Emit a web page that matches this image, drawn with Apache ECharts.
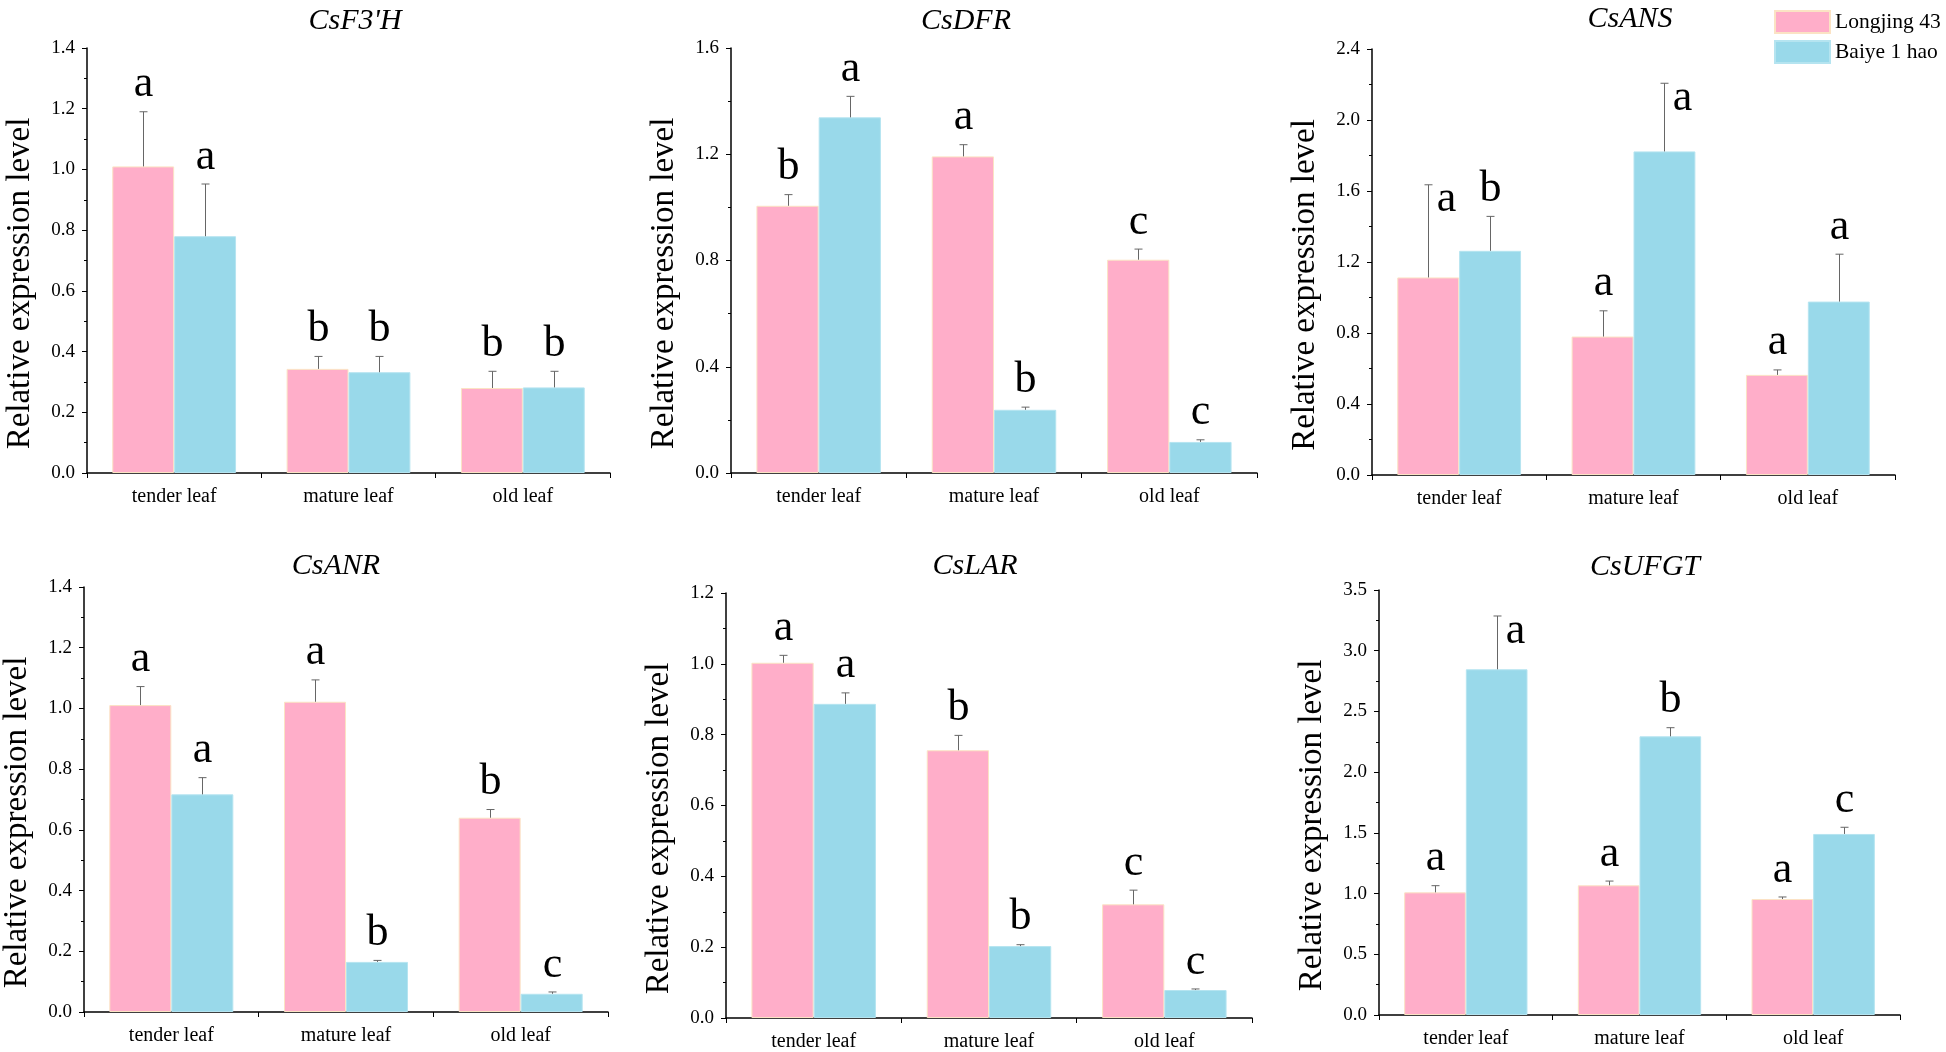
<!DOCTYPE html>
<html><head><meta charset="utf-8">
<script src="https://cdn.jsdelivr.net/npm/echarts@6/dist/echarts.min.js"></script>
<style>html,body{margin:0;padding:0;background:#fff}#c{width:1946px;height:1052px}</style>
</head><body><div id="c"></div>
<script>
// ---------------- DATA ----------------
const categories = ['tender leaf', 'mature leaf', 'old leaf'];
const seriesNames = ['Longjing 43', 'Baiye 1 hao'];
const genes = ["CsF3'H", 'CsDFR', 'CsANS', 'CsANR', 'CsLAR', 'CsUFGT'];
const yMax = [1.4, 1.6, 2.4, 1.4, 1.2, 3.5];
const yInterval = [0.2, 0.4, 0.4, 0.2, 0.2, 0.5];

const longjingMean = [
  [1.010, 0.343, 0.280],
  [1.006, 1.192, 0.803],
  [1.113, 0.780, 0.564],
  [1.011, 1.022, 0.640],
  [1.003, 0.756, 0.321],
  [1.010, 1.068, 0.955]
];
const longjingSD = [
  [0.180, 0.041, 0.055],
  [0.042, 0.044, 0.040],
  [0.522, 0.145, 0.028],
  [0.061, 0.072, 0.027],
  [0.021, 0.042, 0.040],
  [0.055, 0.035, 0.017]
];
const longjingLetters = [
  ['a', 'b', 'b'],
  ['b', 'a', 'c'],
  ['a', 'a', 'a'],
  ['a', 'a', 'b'],
  ['a', 'b', 'c'],
  ['a', 'a', 'a']
];
const baiyeMean = [
  [0.780, 0.332, 0.282],
  [1.339, 0.238, 0.117],
  [1.263, 1.823, 0.977],
  [0.717, 0.165, 0.060],
  [0.887, 0.203, 0.079],
  [2.847, 2.295, 1.491]
];
const baiyeSD = [
  [0.172, 0.052, 0.053],
  [0.079, 0.010, 0.008],
  [0.194, 0.384, 0.267],
  [0.055, 0.005, 0.006],
  [0.031, 0.004, 0.003],
  [0.439, 0.071, 0.055]
];
const baiyeLetters = [
  ['a', 'b', 'b'],
  ['a', 'b', 'c'],
  ['b', 'a', 'a'],
  ['a', 'b', 'c'],
  ['a', 'b', 'c'],
  ['a', 'b', 'c']
];

// ---------------- LAYOUT / STYLE ----------------
const FONT = '"Liberation Serif", "Times New Roman", serif';
const COLORS = ['#FFAEC9', '#99D9EA'];
const CAT_GAP = 0.29;
const grids = [
  {left: 87, top: 48, width: 523, height: 425},
  {left: 731, top: 48, width: 526, height: 425},
  {left: 1372, top: 49, width: 523, height: 426},
  {left: 81, top: 587, width: 527, height: 425},
  {left: 726, top: 593, width: 526, height: 426},
  {left: 1379, top: 590, width: 521, height: 425}
];
const titlePos = [[350, 1], [961, 1], [1625, -1], [331, 546], [970, 546], [1640, 547]];
// letters drawn beside the error bar instead of above it
const besideLabels = ['2-0-0', '2-1-1', '5-1-0'];

const option = {
  backgroundColor: '#fff',
  animation: false,
  title: genes.map((g, i) => ({
    text: g, left: titlePos[i][0], top: titlePos[i][1], textAlign: 'center',
    textStyle: {fontFamily: FONT, fontStyle: 'italic', fontWeight: 'normal', fontSize: 30, color: '#000'}
  })),
  legend: {
    data: seriesNames, orient: 'vertical', left: 1769, top: 5,
    icon: 'rect', itemWidth: 55, itemHeight: 22, itemGap: 6,
    textStyle: {fontFamily: FONT, fontSize: 21.5, color: '#000'}
  },
  grid: grids.map(g => Object.assign({containLabel: false}, g)),
  xAxis: grids.map((g, i) => ({
    type: 'category', gridIndex: i, data: categories,
    axisLine: {lineStyle: {color: '#000', width: 1.5}},
    axisTick: {show: true, length: 5, lineStyle: {color: '#000', width: 1}},
    axisLabel: {color: '#000', fontSize: 20, fontFamily: FONT, margin: 14}
  })),
  yAxis: grids.map((g, i) => ({
    type: 'value', gridIndex: i, min: 0, max: yMax[i], interval: yInterval[i],
    axisLine: {show: true, lineStyle: {color: '#000', width: 1.5}},
    axisTick: {show: true, length: 5, lineStyle: {color: '#000'}},
    minorTick: {show: true, splitNumber: 2, length: 3, lineStyle: {color: '#000'}},
    splitLine: {show: false},
    axisLabel: {formatter: v => v.toFixed(1), fontSize: 19, fontFamily: FONT, color: '#000', margin: 12},
    name: 'Relative expression level', nameLocation: 'middle', nameGap: 50,
    nameTextStyle: {fontSize: 33, fontFamily: FONT, color: '#000', padding: [0, 46, 0, 0]}
  })),
  series: []
};

genes.forEach((g, gi) => {
  [0, 1].forEach(si => {
    const means = si === 0 ? longjingMean[gi] : baiyeMean[gi];
    const sds = si === 0 ? longjingSD[gi] : baiyeSD[gi];
    const lets = si === 0 ? longjingLetters[gi] : baiyeLetters[gi];
    option.series.push({
      type: 'bar', name: seriesNames[si], xAxisIndex: gi, yAxisIndex: gi,
      data: means, barGap: '0%', barCategoryGap: (CAT_GAP * 100) + '%',
      itemStyle: {color: COLORS[si], borderColor: si === 0 ? '#FBE3C4' : '#B5E4F0', borderWidth: 1}
    });
    option.series.push({
      type: 'custom', name: seriesNames[si] + ' err', xAxisIndex: gi, yAxisIndex: gi, z: 10, silent: true,
      data: means.map((m, i) => [i, m, m + sds[i]]),
      renderItem: (params, api) => {
        const ci = api.value(0);
        const base = api.coord([ci, api.value(1)]);
        const top = api.coord([ci, api.value(2)]);
        const band = api.size([1, 0])[0];
        const bw = band * (1 - CAT_GAP) / 2;
        const x = Math.round(base[0] + (si === 0 ? -bw / 2 : bw / 2)) + 0.5;
        const key = gi + '-' + si + '-' + params.dataIndex;
        const beside = besideLabels.indexOf(key) >= 0;
        return {type: 'group', children: [
          {type: 'line', shape: {x1: x, y1: base[1], x2: x, y2: top[1]}, style: {stroke: '#666', lineWidth: 1}},
          {type: 'line', shape: {x1: x - 4, y1: top[1], x2: x + 4, y2: top[1]}, style: {stroke: '#666', lineWidth: 1}},
          {type: 'text', x: beside ? x + 18 : x, y: beside ? top[1] + 37 : top[1] - 5,
            style: {text: lets[params.dataIndex], fontSize: 44, fontFamily: FONT, fill: '#000',
              align: 'center', verticalAlign: 'bottom'}}
        ]};
      }
    });
  });
});

const chart = echarts.init(document.getElementById('c'), null, {renderer: 'canvas'});
chart.setOption(option);
</script>
</body></html>
